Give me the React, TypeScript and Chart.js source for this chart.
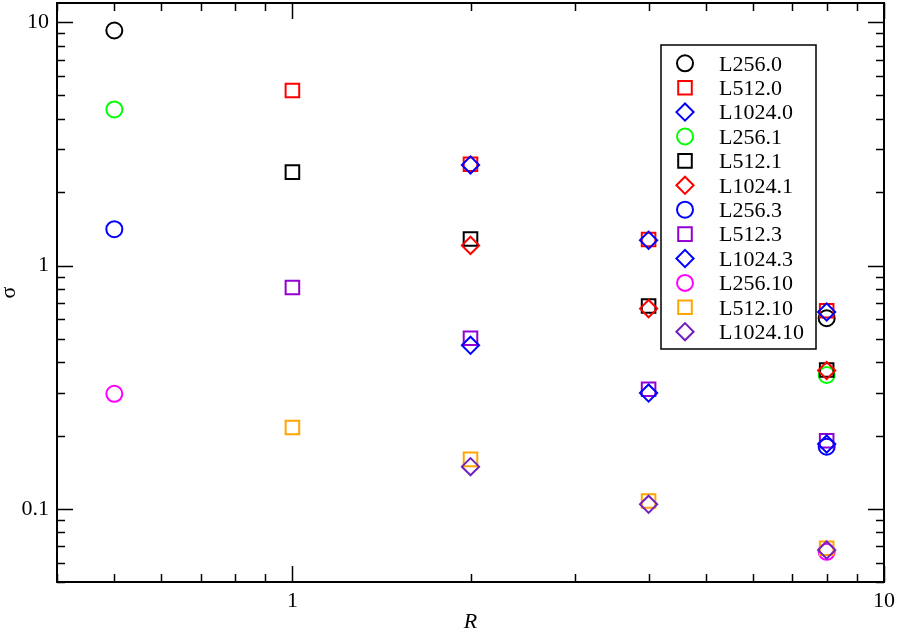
import React, { useEffect, useRef } from 'react';
import { Chart, registerables } from 'chart.js';

Chart.register(...registerables);

// ---------------- data ----------------
const seriesLabels = [
  'L256.0', 'L512.0', 'L1024.0',
  'L256.1', 'L512.1', 'L1024.1',
  'L256.3', 'L512.3', 'L1024.3',
  'L256.10', 'L512.10', 'L1024.10',
];

const R256 = [0.5, 8];
const R512 = [1, 2, 4, 8];
const R1024 = [2, 4, 8];

const sigmaL256_0 = [9.25, 0.607];
const sigmaL512_0 = [5.24, 2.61, 1.28, 0.652];
const sigmaL1024_0 = [2.59, 1.27, 0.644];
const sigmaL256_1 = [4.38, 0.355];
const sigmaL512_1 = [2.42, 1.285, 0.682, 0.372];
const sigmaL1024_1 = [1.21, 0.665, 0.37];
const sigmaL256_3 = [1.41, 0.18];
const sigmaL512_3 = [0.812, 0.502, 0.31, 0.1905];
const sigmaL1024_3 = [0.47, 0.299, 0.1845];
const sigmaL256_10 = [0.297, 0.0665];
const sigmaL512_10 = [0.216, 0.1596, 0.1077, 0.0688];
const sigmaL1024_10 = [0.149, 0.1043, 0.0677];

const xMajorTicks = [1, 10];
const xMinorTicks = [0.4, 0.5, 0.6, 0.7, 0.8, 0.9, 2, 3, 4, 5, 6, 7, 8, 9];
const yMajorTicks = [0.1, 1, 10];
const yMinorTicks = [0.05, 0.06, 0.07, 0.08, 0.09, 0.2, 0.3, 0.4, 0.5, 0.6, 0.7, 0.8, 0.9, 2, 3, 4, 5, 6, 7, 8, 9];

// ---------------- styles ----------------
const colors = [
  '#000000', '#ff0000', '#0000ff',
  '#00ff00', '#000000', '#ff0000',
  '#0000ff', '#9400d3', '#0000ff',
  '#ff00ff', '#ffa500', '#7221bc',
];
const FONT = "'Liberation Serif', 'Times New Roman', serif";

const seriesX = [R256, R512, R1024, R256, R512, R1024, R256, R512, R1024, R256, R512, R1024];
const seriesY = [
  sigmaL256_0, sigmaL512_0, sigmaL1024_0,
  sigmaL256_1, sigmaL512_1, sigmaL1024_1,
  sigmaL256_3, sigmaL512_3, sigmaL1024_3,
  sigmaL256_10, sigmaL512_10, sigmaL1024_10,
];
const shapeOf = (i: number) => ['circle', 'rect', 'rectRot'][i % 3];
const radiusOf = (s: string) => (s === 'circle' ? 8 : s === 'rect' ? 9.6 : 8.6);

function drawMarker(ctx: CanvasRenderingContext2D, shape: string, x: number, y: number, color: string) {
  const r = radiusOf(shape);
  ctx.save();
  ctx.strokeStyle = color;
  ctx.lineWidth = 2;
  ctx.beginPath();
  if (shape === 'circle') {
    ctx.arc(x, y, r, 0, Math.PI * 2);
  } else if (shape === 'rect') {
    const s = r * Math.SQRT1_2;
    ctx.rect(x - s, y - s, 2 * s, 2 * s);
  } else {
    ctx.moveTo(x - r, y);
    ctx.lineTo(x, y - r);
    ctx.lineTo(x + r, y);
    ctx.lineTo(x, y + r);
    ctx.closePath();
  }
  ctx.stroke();
  ctx.restore();
}

const gracePlugin = {
  id: 'graceFrame',
  afterDraw(chart: any) {
    const { ctx, chartArea } = chart;
    const { left, right, top, bottom } = chartArea;
    const xs = chart.scales.x;
    const ys = chart.scales.y;
    ctx.save();
    ctx.strokeStyle = '#000';
    // ticks
    ctx.lineWidth = 1.5;
    const drawX = (vals: number[], len: number) => {
      vals.forEach((v) => {
        const px = Math.round(xs.getPixelForValue(v)) + 0.5;
        ctx.beginPath();
        ctx.moveTo(px, bottom);
        ctx.lineTo(px, bottom - len);
        ctx.moveTo(px, top);
        ctx.lineTo(px, top + len);
        ctx.stroke();
      });
    };
    const drawY = (vals: number[], len: number) => {
      vals.forEach((v) => {
        const py = Math.round(ys.getPixelForValue(v)) + 0.5;
        ctx.beginPath();
        ctx.moveTo(left, py);
        ctx.lineTo(left + len, py);
        ctx.moveTo(right, py);
        ctx.lineTo(right - len, py);
        ctx.stroke();
      });
    };
    drawX(xMajorTicks, 16);
    drawX(xMinorTicks, 8);
    drawY(yMajorTicks, 16);
    drawY(yMinorTicks, 8);
    // frame
    ctx.lineWidth = 2;
    ctx.strokeRect(left, top, right - left, bottom - top);

    // legend
    const lx = 661, ly = 45, lw = 155, lh = 304;
    ctx.fillStyle = '#fff';
    ctx.fillRect(lx, ly, lw, lh);
    ctx.lineWidth = 1.5;
    ctx.strokeStyle = '#000';
    ctx.strokeRect(lx, ly, lw, lh);
    ctx.font = `22px ${FONT}`;
    ctx.textAlign = 'left';
    ctx.textBaseline = 'alphabetic';
    ctx.fillStyle = '#000';
    seriesLabels.forEach((lab, i) => {
      const cy = 63.3 + i * 24.4;
      drawMarker(ctx, shapeOf(i), 685, cy, colors[i]);
      ctx.fillStyle = '#000';
      ctx.fillText(lab, 719, cy + 7.3);
    });
    ctx.restore();
  },
};

export default function App() {
  const ref = useRef<HTMLCanvasElement | null>(null);
  useEffect(() => {
    if (!ref.current) return;
    const datasets = seriesLabels.map((label, i) => ({
      label,
      data: seriesX[i].map((x, j) => ({ x, y: seriesY[i][j] })),
      pointStyle: shapeOf(i),
      pointRadius: radiusOf(shapeOf(i)),
      pointHoverRadius: radiusOf(shapeOf(i)),
      pointBorderWidth: 2,
      pointBorderColor: colors[i],
      pointBackgroundColor: 'rgba(0,0,0,0)',
      borderColor: colors[i],
      backgroundColor: 'rgba(0,0,0,0)',
      showLine: false,
      order: -i,
    }));
    const chart = new Chart(ref.current, {
      type: 'scatter',
      data: { datasets },
      options: {
        animation: false,
        responsive: false,
        events: [],
        layout: { autoPadding: false, padding: { left: 0, top: 3, right: 13, bottom: 0 } },
        plugins: {
          legend: { display: false },
          tooltip: { enabled: false },
        },
        scales: {
          x: {
            type: 'logarithmic',
            min: 0.4,
            max: 10,
            grid: { display: false, drawTicks: false },
            border: { display: false },
            afterBuildTicks: (s: any) => {
              s.ticks = xMajorTicks.map((v) => ({ value: v }));
            },
            afterFit: (s: any) => {
              s.height = 52;
              s.paddingLeft = 0;
              s.paddingRight = 0;
            },
            ticks: {
              autoSkip: false,
              maxRotation: 0,
              padding: 6,
              color: '#000',
              font: { family: FONT, size: 22 },
              callback: (v: any) => String(v),
            },
            title: {
              display: true,
              text: 'R',
              color: '#000',
              font: { family: FONT, size: 22, style: 'italic', lineHeight: 1 },
              padding: { top: 0, bottom: 1 },
            },
          },
          y: {
            type: 'logarithmic',
            min: 0.05,
            max: 12,
            grid: { display: false, drawTicks: false },
            border: { display: false },
            afterBuildTicks: (s: any) => {
              s.ticks = yMajorTicks.map((v) => ({ value: v }));
            },
            afterFit: (s: any) => {
              s.width = 57;
              s.paddingTop = 0;
              s.paddingBottom = 0;
            },
            ticks: {
              autoSkip: false,
              padding: 8,
              color: '#000',
              font: { family: FONT, size: 22 },
              callback: (v: any) => String(v),
            },
            title: {
              display: true,
              text: 'σ',
              color: '#000',
              font: { family: FONT, size: 22, lineHeight: 0.8 },
              padding: 0,
            },
          },
        },
      },
      plugins: [gracePlugin],
    } as any);
    return () => chart.destroy();
  }, []);
  return (
    <div style={{ position: 'fixed', left: 0, top: 0, width: 897, height: 634, background: '#fff' }}>
      <canvas ref={ref} width={897} height={634} style={{ display: 'block' }} />
    </div>
  );
}
